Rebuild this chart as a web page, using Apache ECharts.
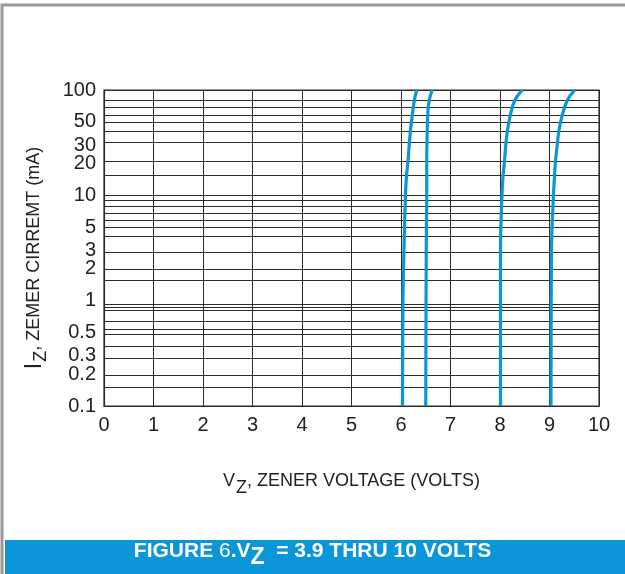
<!DOCTYPE html>
<html>
<head>
<meta charset="utf-8">
<script src="https://cdn.jsdelivr.net/npm/echarts@6/dist/echarts.min.js"></script>
<style>
html,body{margin:0;padding:0;background:#fff;}
#chart{width:625px;height:574px;}
</style>
</head>
<body>
<div id="chart"></div>
<script>
// X ticks (volts)
const xTicks = [0,1,2,3,4,5,6,7,8,9,10];
// Y tick labels (mA), log scale
const yLabels = [0.1,0.2,0.3,0.5,1,2,3,5,10,20,30,50,100];
// Horizontal grid lines (mA) as drawn in the reference
const yGridValues = [80,68,58,49,41,31.6,21,15.4,10,8.9,7.8,6.8,5.8,5,4.1,2.9,2,1.57,0.92,0.865,0.815,0.64,0.54,0.48,0.37,0.284,0.196,0.151];

// Curves: [Vz (V), Iz (mA)]
const curveA = [[6.03,0.1],[6.04,1],[6.06,3],[6.09,10],[6.11,15],[6.14,21],[6.19,41],[6.23,58],[6.27,80],[6.32,100]];
const curveB = [[6.50,0.1],[6.51,3],[6.52,10],[6.52,21],[6.53,41],[6.54,58],[6.57,80],[6.63,100]];
const curveC = [[8.01,0.1],[8.01,3],[8.04,10],[8.06,15],[8.09,21],[8.12,31],[8.15,41],[8.21,58],[8.30,80],[8.45,100]];
const curveD = [[9.03,0.1],[9.04,3],[9.08,10],[9.10,15],[9.12,21],[9.16,31],[9.19,41],[9.26,58],[9.36,80],[9.51,100]];
const curves = [curveA, curveB, curveC, curveD];

const chart = echarts.init(document.getElementById('chart'), null, {renderer:'canvas'});
const font = '"Liberation Sans", Arial, Helvetica, sans-serif';
const lineCol = '#2b2b2b';
const blue = '#0a96d8';

const option = {
  backgroundColor: '#ffffff',
  animation: false,
  textStyle: {fontFamily: font},
  grid: {left:104, right:26, top:90, bottom:168, containLabel:false, show:true, borderColor:lineCol, borderWidth:1.2},
  xAxis: {
    type:'value', min:0, max:10, interval:1,
    axisLine:{show:true, lineStyle:{color:lineCol, width:1.2}},
    axisTick:{show:false},
    splitLine:{show:true, lineStyle:{color:lineCol, width:1}},
    axisLabel:{color:'#222', fontSize:20, margin:9, fontFamily:font},
    name:'{a|V}{s|Z}{a|, ZENER VOLTAGE (VOLTS)}',
    nameLocation:'middle', nameGap:59,
    nameTextStyle:{
      color:'#222', fontFamily:font,
      rich:{
        a:{fontSize:18, color:'#222', fontFamily:font},
        s:{fontSize:18, color:'#222', fontFamily:font, padding:[14,0,0,1]}
      }
    }
  },
  yAxis: {
    type:'log', logBase:10, min:0.1, max:100,
    axisLine:{show:true, lineStyle:{color:lineCol, width:1.2}},
    axisTick:{show:false, customValues: yGridValues.concat([0.1,100])},
    splitLine:{show:true, lineStyle:{color:lineCol, width:1}},
    minorSplitLine:{show:false},
    axisLabel:{color:'#222', fontSize:20, margin:8, fontFamily:font, customValues: yLabels,
      formatter: v => String(v)},
    name:'{i|I}{s|Z}{a|, ZEMER CIRREMT (mA)}',
    nameLocation:'middle', nameGap:54, nameRotate:90,
    nameTextStyle:{
      color:'#222', fontFamily:font, padding:[0,20,0,0],
      rich:{
        i:{fontSize:23, color:'#222', fontFamily:font},
        a:{fontSize:18, color:'#222', fontFamily:font},
        s:{fontSize:18, color:'#222', fontFamily:font, padding:[13,0,0,1]}
      }
    }
  },
  series: curves.map((c,i) => ({
    type:'line', name:'curve'+i, data:c, smooth:0.4, showSymbol:false, symbol:'none',
    lineStyle:{color:blue, width:3.2}, z:5
  })),
  graphic: [
    {type:'rect', shape:{x:2, y:5, width:630, height:580}, style:{fill:'none', stroke:'#999', lineWidth:3}, silent:true},
    {type:'rect', shape:{x:5, y:540, width:620, height:34}, style:{fill:blue}, silent:true},
    {type:'text', left:'center', top:541, style:{
      text:'{b|FIGURE }{n|6}{b|.V}{z|Z}{b|  = 3.9 THRU 10 VOLTS}',
      rich:{
        b:{fontSize:21, fontWeight:'bold', fill:'#fff', fontFamily:font},
        n:{fontSize:21, fontWeight:'normal', fill:'#fff', fontFamily:font},
        z:{fontSize:23, fontWeight:'bold', fill:'#fff', fontFamily:font, padding:[12,0,0,0]}
      }
    }, silent:true}
  ]
};
chart.setOption(option);
</script>
</body>
</html>
